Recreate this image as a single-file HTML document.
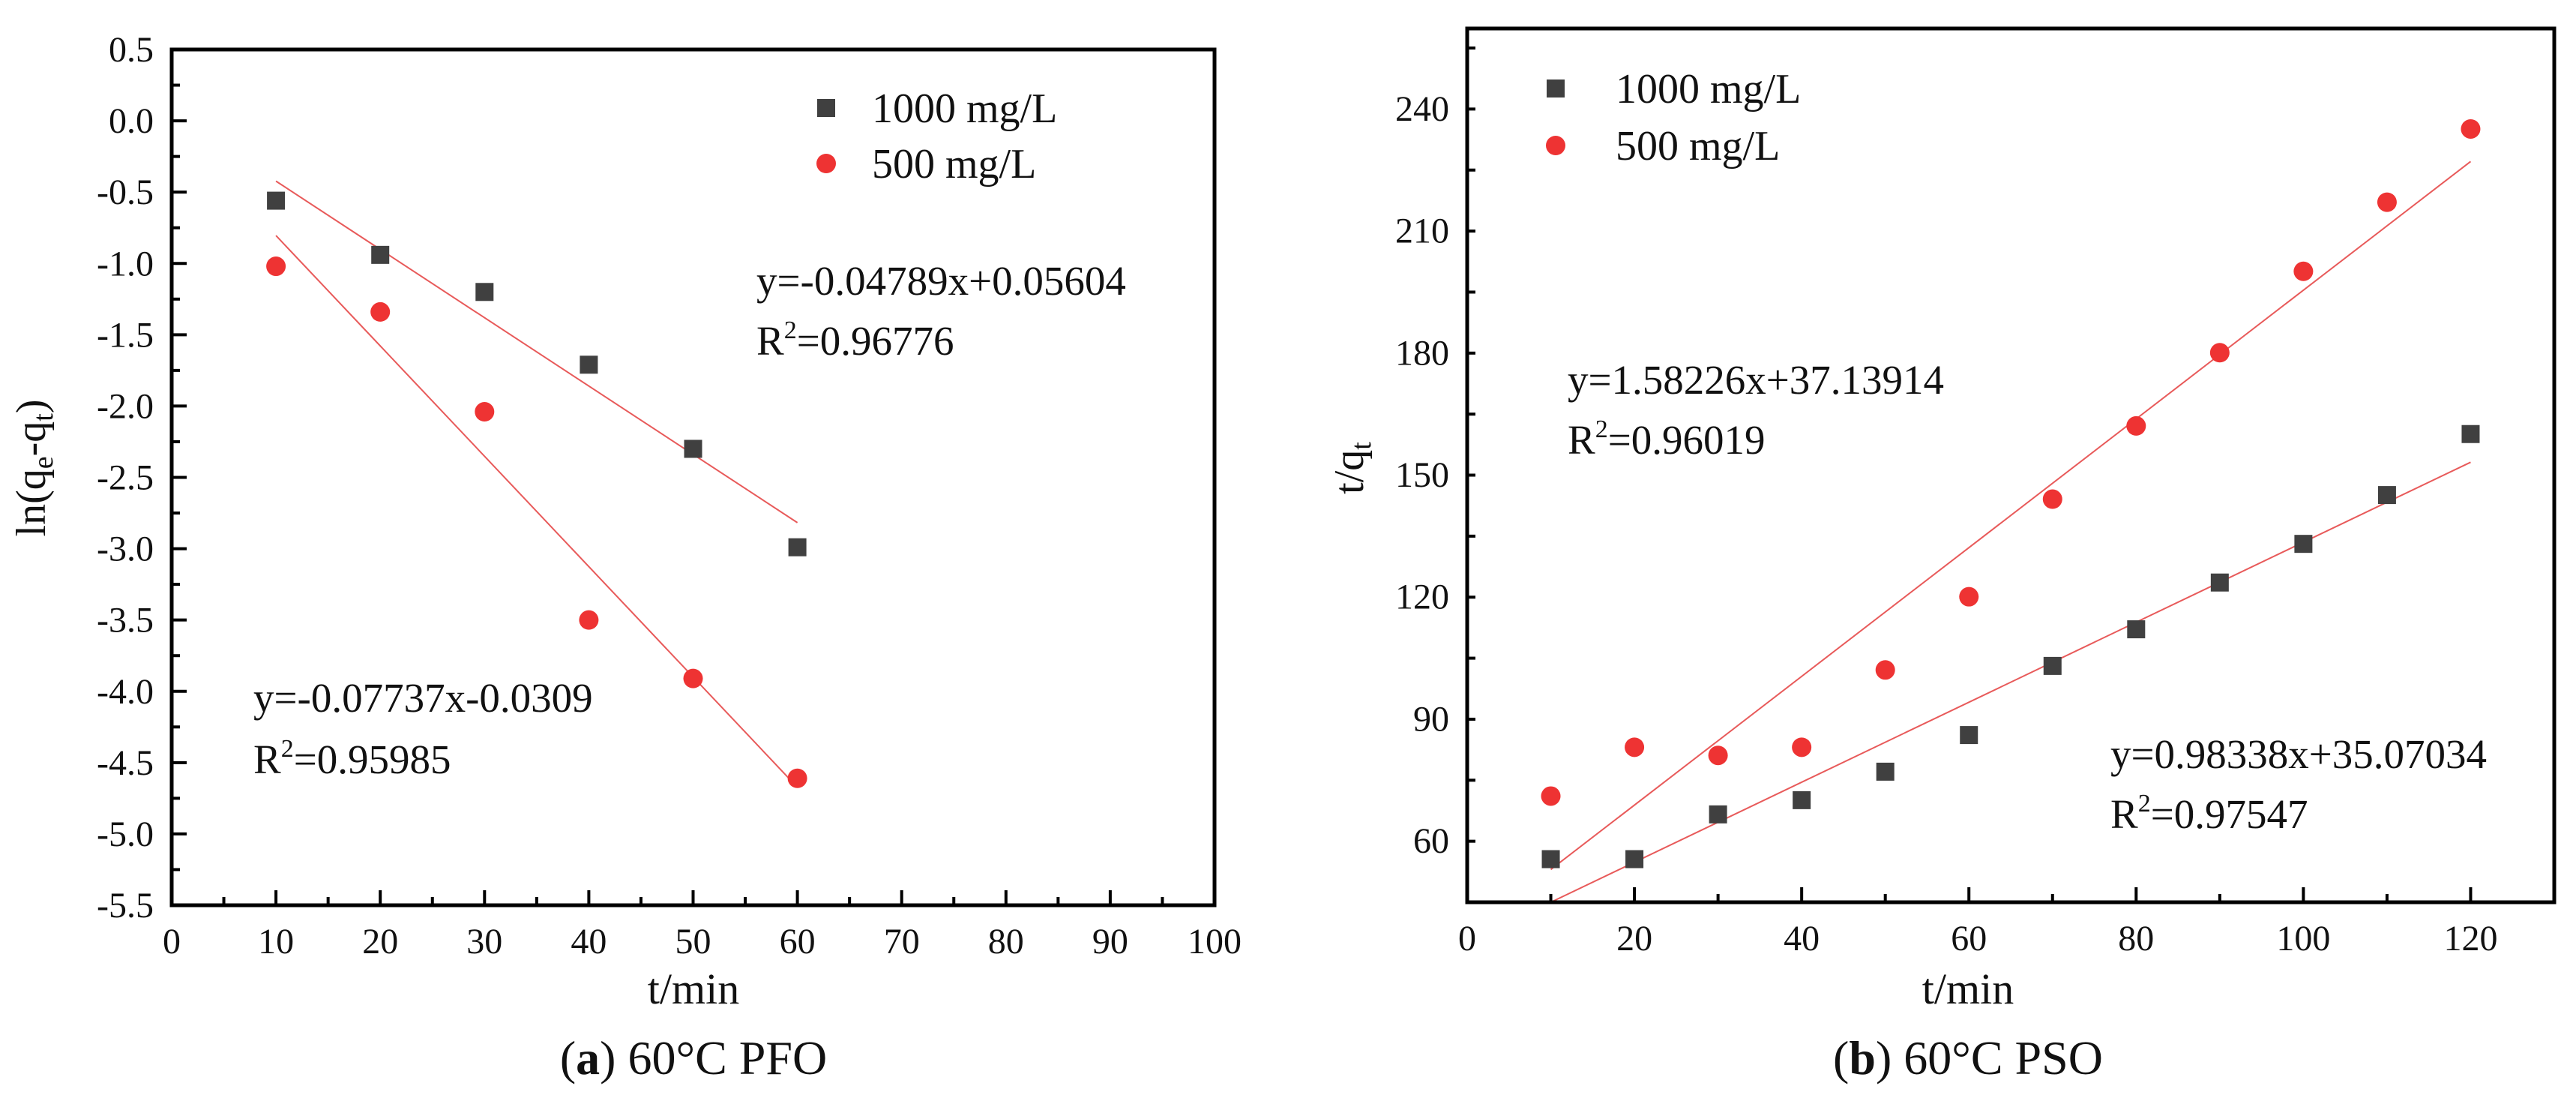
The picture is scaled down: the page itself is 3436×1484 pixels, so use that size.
<!DOCTYPE html>
<html><head><meta charset="utf-8"><style>
html,body{margin:0;padding:0;background:#fff;}
svg{display:block;font-family:"Liberation Serif",serif;}
</style></head><body>
<svg id="fig" width="3436" height="1484" viewBox="0 0 3436 1484" xmlns="http://www.w3.org/2000/svg">
<g id="pa"></g>
<g id="pb"></g>
</svg>
<script>
// Panel A data
const aX = [10,20,30,40,50,60];
const a1000 = [-0.56,-0.94,-1.2,-1.71,-2.3,-2.99];
const a500 = [-1.02,-1.34,-2.04,-3.5,-3.91,-4.61];
const aFit1000 = [-0.04789,0.05604];
const aFit500 = [-0.07737,-0.0309];
const aXTicks = [0,10,20,30,40,50,60,70,80,90,100];
const aYTicks = [-5.5,-5.0,-4.5,-4.0,-3.5,-3.0,-2.5,-2.0,-1.5,-1.0,-0.5,0.0,0.5];
// Panel B data
const bX = [10,20,30,40,50,60,70,80,90,100,110,120];
const b1000 = [55.5,55.5,66.5,70,77,86,103,112,123.5,133,145,160];
const b500 = [71,83,81,83,102,120,144,162,180,200,217,235];
const bFit1000 = [0.98338,35.07034];
const bFit500 = [1.58226,37.13914];
const bXTicks = [0,20,40,60,80,100,120];
const bYTicks = [60,90,120,150,180,210,240];

const NS="http://www.w3.org/2000/svg";
function mk(parent,tag,attrs,text){const e=document.createElementNS(NS,tag);for(const k in attrs)e.setAttribute(k,attrs[k]);if(text!==undefined)e.textContent=text;parent.appendChild(e);return e;}

function panel(g,cfg){
  const sx=v=>cfg.L+(v-cfg.x0)/(cfg.x1-cfg.x0)*(cfg.R-cfg.L);
  const sy=v=>cfg.B-(v-cfg.y0)/(cfg.y1-cfg.y0)*(cfg.B-cfg.T);
  const clipId=cfg.id+'clip';
  const d=mk(g,'defs',{});const cp=mk(d,'clipPath',{id:clipId});mk(cp,'rect',{x:cfg.L,y:cfg.T,width:cfg.R-cfg.L,height:cfg.B-cfg.T});
  // ticks
  for(let v=cfg.x0;v<=cfg.x1+1e-9;v+=cfg.xMinor){
    const major=Math.abs(Math.round(v/cfg.xMajor)*cfg.xMajor-v)<1e-6;
    const t=mk(g,'line',{x1:sx(v),x2:sx(v),y1:cfg.B,y2:cfg.B-(major?20:11),stroke:'#000','stroke-width':4});
    
    
  }
  for(let v=cfg.y0;v<=cfg.y1+1e-9;v+=cfg.yMinor){
    const r=Math.round(v/cfg.yMajor)*cfg.yMajor;
    const major=Math.abs(r-v)<1e-6 && cfg.yTicks.some(t=>Math.abs(t-v)<1e-6);
    const t=mk(g,'line',{x1:cfg.L,x2:cfg.L+(major?20:11),y1:sy(v),y2:sy(v),stroke:'#000','stroke-width':4});
    
    
  }
  cfg.xTicks.forEach(v=>{
    const t=mk(g,'text',{x:sx(v),y:cfg.B+64,'font-size':48,'text-anchor':'middle',fill:'#111'},String(v));
    
    
  });
  cfg.yTicks.forEach(v=>{
    const t=mk(g,'text',{x:cfg.L-24,y:sy(v)+16,'font-size':48,'text-anchor':'end',fill:'#111'},cfg.yFmt(v));
    
    
  });
  // fits
  const fg=mk(g,'g',{'clip-path':'url(#'+clipId+')'});
  [[cfg.fit1000,'fit-line-1000'],[cfg.fit500,'fit-line-500']].forEach(([f,n])=>{
    const xa=cfg.xs[0],xb=cfg.xs[cfg.xs.length-1];
    const l=mk(fg,'line',{x1:sx(xa),y1:sy(f[0]*xa+f[1]),x2:sx(xb),y2:sy(f[0]*xb+f[1]),stroke:'#e85a5a','stroke-width':2});
    
    
  });
  cfg.xs.forEach((x,i)=>{
    const s=mk(g,'rect',{x:sx(x)-12,y:sy(cfg.s1000[i])-12,width:24,height:24,fill:'#404040'});
    
    
    const c=mk(g,'circle',{cx:sx(x),cy:sy(cfg.s500[i]),r:13,fill:'#ee3333'});
    
    
  });
  const fr=mk(g,'rect',{x:cfg.L,y:cfg.T,width:cfg.R-cfg.L,height:cfg.B-cfg.T,fill:'none',stroke:'#000','stroke-width':5});
  
  
  return {sx,sy};
}

const ga=document.getElementById('pa');
panel(ga,{id:'a',L:229,R:1620,T:66,B:1207,x0:0,x1:100,y0:-5.5,y1:0.5,xMajor:10,xMinor:5,yMajor:0.5,yMinor:0.25,
  xTicks:aXTicks,yTicks:aYTicks,yFmt:v=>v.toFixed(1),xs:aX,s1000:a1000,s500:a500,fit1000:aFit1000,fit500:aFit500});
const gb=document.getElementById('pb');
panel(gb,{id:'b',L:1957,R:3407,T:38,B:1203,x0:0,x1:130,y0:44.9,y1:259.7,xMajor:20,xMinor:10,yMajor:30,yMinor:15,
  xTicks:bXTicks,yTicks:bYTicks,yFmt:v=>String(v),xs:bX,s1000:b1000,s500:b500,fit1000:bFit1000,fit500:bFit500});
</script>
<svg style="position:absolute;left:0;top:0" width="3436" height="1484" font-family="Liberation Serif, serif">
<g>
<rect x="1090" y="132" width="24" height="24" fill="#404040"/>
<text x="1163" y="163" font-size="56" fill="#111">1000 mg/L</text>
<circle cx="1102" cy="218" r="13" fill="#ee3333"/>
<text x="1163" y="237" font-size="56" fill="#111">500 mg/L</text>
</g>
<text x="1009" y="393" font-size="55" fill="#111">y=-0.04789x+0.05604</text>
<text x="1009" y="473" font-size="55" fill="#111">R<tspan dy="-22" font-size="34">2</tspan><tspan dy="22">=0.96776</tspan></text>
<text x="338" y="949" font-size="55" fill="#111">y=-0.07737x-0.0309</text>
<text x="338" y="1031" font-size="55" fill="#111">R<tspan dy="-22" font-size="34">2</tspan><tspan dy="22">=0.95985</tspan></text>
<text transform="translate(60,624) rotate(-90)" text-anchor="middle" font-size="56" fill="#111">ln(q<tspan dy="10" font-size="38">e</tspan><tspan dy="-10">-q</tspan><tspan dy="10" font-size="38">t</tspan><tspan dy="-10">)</tspan></text>
<text x="925" y="1338" text-anchor="middle" font-size="58" fill="#111">t/min</text>
<text x="925" y="1432" text-anchor="middle" font-size="64" fill="#111">(<tspan font-weight="bold">a</tspan>) 60°C PFO</text>

<g>
<rect x="2063" y="106" width="24" height="24" fill="#404040"/>
<text x="2155" y="137" font-size="56" fill="#111">1000 mg/L</text>
<circle cx="2075" cy="194" r="13" fill="#ee3333"/>
<text x="2155" y="213" font-size="56" fill="#111">500 mg/L</text>
</g>
<text x="2091" y="525" font-size="55" fill="#111">y=1.58226x+37.13914</text>
<text x="2091" y="605" font-size="55" fill="#111">R<tspan dy="-22" font-size="34">2</tspan><tspan dy="22">=0.96019</tspan></text>
<text x="2815" y="1024" font-size="55" fill="#111">y=0.98338x+35.07034</text>
<text x="2815" y="1104" font-size="55" fill="#111">R<tspan dy="-22" font-size="34">2</tspan><tspan dy="22">=0.97547</tspan></text>
<text transform="translate(1818,624) rotate(-90)" text-anchor="middle" font-size="56" fill="#111">t/q<tspan dy="10" font-size="38">t</tspan></text>
<text x="2625" y="1338" text-anchor="middle" font-size="58" fill="#111">t/min</text>
<text x="2625" y="1432" text-anchor="middle" font-size="64" fill="#111">(<tspan font-weight="bold">b</tspan>) 60°C PSO</text>
</svg>
</body></html>
